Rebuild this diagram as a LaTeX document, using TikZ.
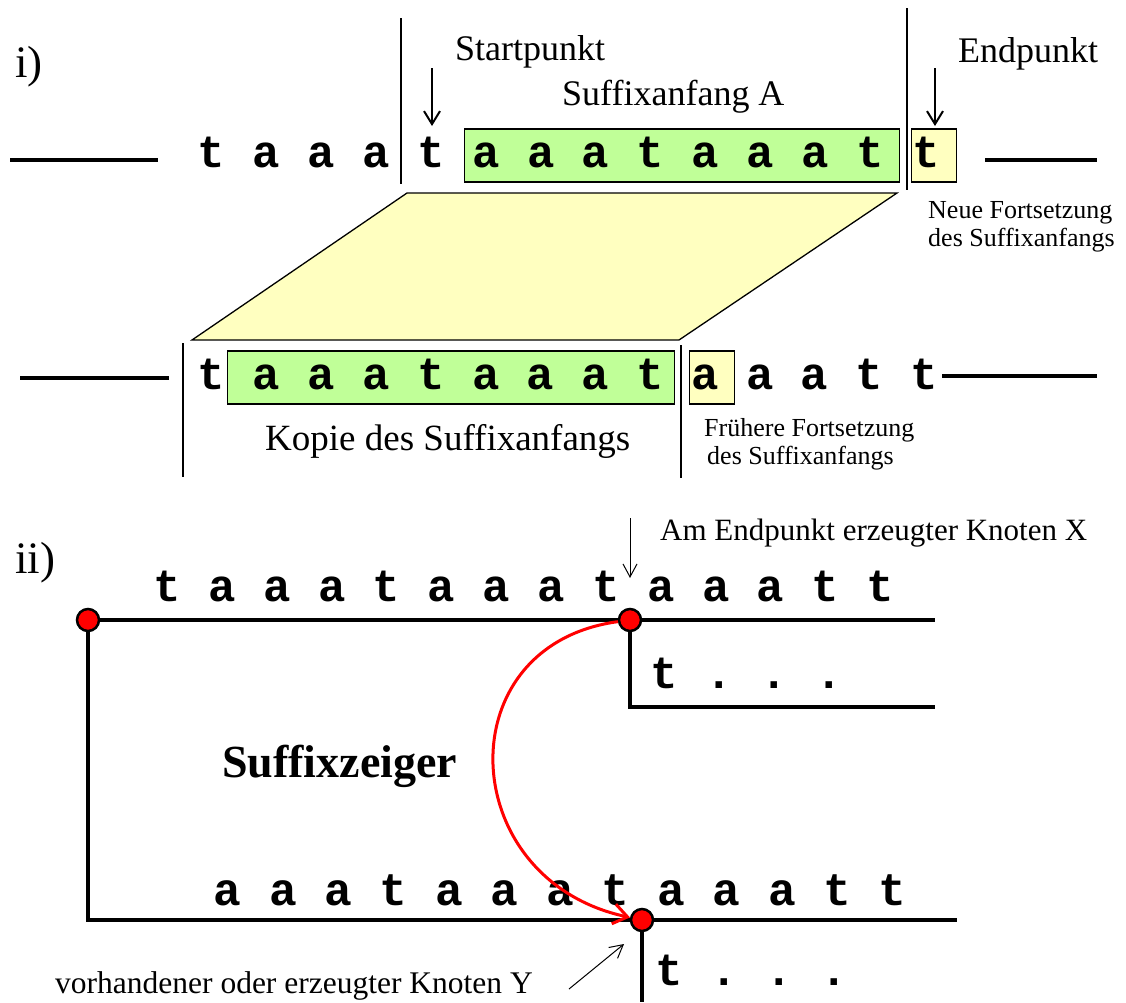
\documentclass[tikz,border=0pt]{standalone}
\usepackage{fontspec}
\setmainfont{Liberation Serif}
\setmonofont{Liberation Mono}
\usepackage{xcolor}
\definecolor{matchfill}{RGB}{192, 255, 152}
\definecolor{copyfill}{RGB}{255, 255, 192}
\definecolor{pointer}{RGB}{255, 0, 0}
\usepackage{tikz}
\usetikzlibrary{arrows.meta,positioning,calc}
\newcommand{\seqfont}{\fontsize{45.7}{46}\selectfont\ttfamily\bfseries}

\begin{document}
\begin{tikzpicture}[
  x=1pt, y=-1pt,
  seq/.style={font=\seqfont, inner sep=0pt, anchor=base west},
  cell/.style={seq, draw=black, line width=1.3pt, text height=33pt, text depth=10pt, inner ysep=5pt},
  lbl/.style={font=\fontsize{36}{40}\selectfont, inner sep=0pt, anchor=base west},
  note/.style={font=\fontsize{26}{28}\selectfont, inner sep=0pt, anchor=base west},
  strand/.style={line width=4.5pt},
  cut/.style={line width=1.3pt},
  tick/.style={-{Straight Barb[length=13pt,width=16pt]}, line width=2pt},
  thinarrow/.style={-{Straight Barb[length=13pt,width=14pt]}, line width=1pt},
  knot/.style={circle, fill=pointer, draw=black, line width=2.5pt, minimum size=22pt, inner sep=0pt},
  link/.style={draw=pointer, line width=3pt, -{Straight Barb[length=14pt,width=20pt]}}
]
\useasboundingbox (0,0) rectangle (1126,1002);

% i)
\node[lbl, font=\fontsize{45}{48}\selectfont] (parti) at (15,77) {i)};
\node[lbl] (startlbl) at (455,60) {Startpunkt};
\node[lbl] (sufAlbl) at (562,105) {Suffixanfang A};
\node[lbl] (endlbl) at (958,62) {Endpunkt};

\draw[cut, fill=copyfill] (407,193) -- (897,193) -- (679,340) -- (192,340) -- cycle;

\node[seq] (pre) at (197.4,167) {t a a a};
\node[seq] (startt) at (416.8,167) {t};
\node[cell, fill=matchfill, inner xsep=8pt] (sufA) at (463.6,167) {\makebox[419pt][l]{a a a t a a a t}};
\node[cell, fill=copyfill, inner xsep=1pt] (endt) at (911,167) {\makebox[43pt][l]{t}};

\coordinate (l1a) at (10,160);  \coordinate (l1b) at (158,160);
\coordinate (r1a) at (985,160); \coordinate (r1b) at (1097,160);
\draw[strand] (l1a) -- (l1b);
\draw[strand] (r1a) -- (r1b);
\draw[cut] (401,18) -- (401,184);
\draw[cut] (907,8) -- (907,190);

\coordinate (sp) at (432,68);
\coordinate (ep) at (935,68);
\draw[tick] (sp) -- ++(0,58);
\draw[tick] (ep) -- ++(0,58);

\node[note] (newa) at (928,218) {Neue Fortsetzung};
\node[note] (newb) at (928,246) {des Suffixanfangs};

\node[seq] (copyt) at (197.4,389) {t};
\node[cell, fill=matchfill, inner xsep=10.5pt] (copy) at (227,389) {\makebox[426pt][r]{a a a t a a a t}};
\node[cell, fill=copyfill, inner xsep=2pt] (prev) at (689,389) {\makebox[41pt][l]{a}};
\node[seq] (rest) at (745.8,389) {a a t t};

\coordinate (l2a) at (20,378);  \coordinate (l2b) at (169,378);
\coordinate (r2a) at (942,376); \coordinate (r2b) at (1097,376);
\draw[strand] (l2a) -- (l2b);
\draw[strand] (r2a) -- (r2b);
\draw[cut] (183,343) -- (183,477);
\draw[cut] (681,345) -- (681,478);

\node[lbl, font=\fontsize{37}{40}\selectfont] (copylbl) at (265,450) {Kopie des Suffixanfangs};
\node[note] (olda) at (704,436) {Frühere Fortsetzung};
\node[note] (oldb) at (707,464) {des Suffixanfangs};

% ii)
\node[lbl, font=\fontsize{45}{48}\selectfont] (partii) at (15,573) {ii)};
\node[lbl, font=\fontsize{31}{34}\selectfont] (xlbl) at (660,540) {Am Endpunkt erzeugter Knoten X};
\node[lbl, font=\fontsize{31.5}{34}\selectfont] (ylbl) at (55,993) {vorhandener oder erzeugter Knoten Y};
\node[lbl, font=\fontsize{46}{48}\selectfont\bfseries] (ptrlbl) at (222,777) {Suffixzeiger};

\node[seq] (topword) at (153.4,601) {t a a a t a a a t a a a t t};
\node[seq, font=\fontsize{46.2}{46}\selectfont\ttfamily\bfseries] (botword) at (213.4,905) {a a a t a a a t a a a t t};
\node[seq] (xtail) at (650.4,688) {t . . .};
\node[seq] (ytail) at (655.4,985) {t . . .};

\node[knot] (root) at (88,620) {};
\node[knot] (X) at (630,620) {};
\node[knot] (Y) at (642,920) {};

\coordinate (topend) at (935,620);
\coordinate (xend) at (935,707);
\coordinate (corner) at (88,920);
\coordinate (botend) at (957,920);
\coordinate (yend) at (642,1002);

\draw[strand] (root) -- (X);
\draw[strand] (X) -- (topend);
\draw[strand] (X) |- (xend);
\draw[strand] (root) -- (corner) -- (Y);
\draw[strand] (Y) -- (botend);
\draw[strand] (Y) -- (yend);

\draw[link] (X) .. controls (445,645) and (455,880) .. (Y);

\coordinate (xa) at (630,518);
\coordinate (xb) at (630,578);
\draw[thinarrow] (xa) -- (xb);
\coordinate (ya) at (569,989);
\coordinate (yb) at (624,944);
\draw[thinarrow] (ya) -- (yb);
\end{tikzpicture}
\end{document}
